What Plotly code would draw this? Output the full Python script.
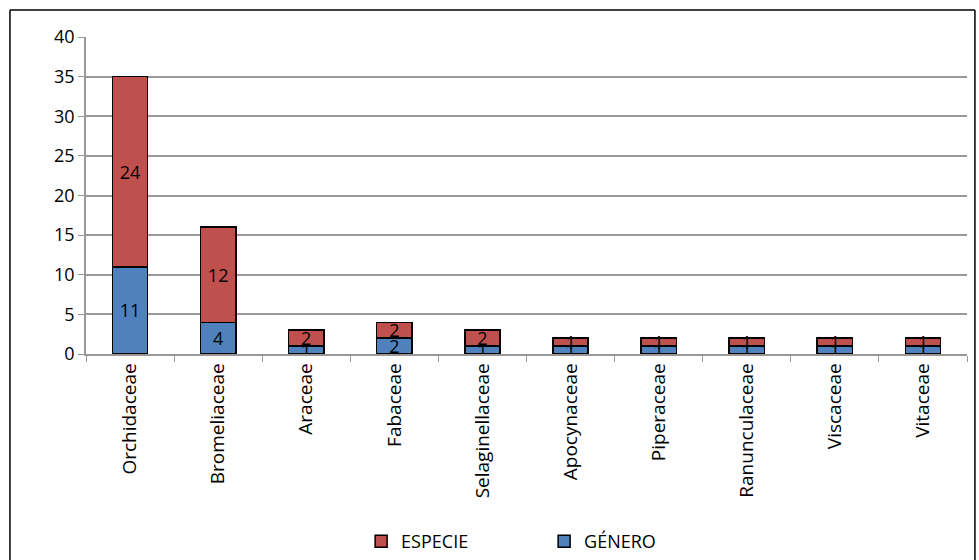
import plotly.graph_objects as go

# Data
familias = ["Orchidaceae", "Bromeliaceae", "Araceae", "Fabaceae", "Selaginellaceae",
            "Apocynaceae", "Piperaceae", "Ranunculaceae", "Viscaceae", "Vitaceae"]
genero = [11, 4, 1, 2, 1, 1, 1, 1, 1, 1]
especie = [24, 12, 2, 2, 2, 1, 1, 1, 1, 1]

font_name = "'Open Sans', sans-serif"

fig = go.Figure()

fig.add_trace(
    go.Bar(
        x=familias,
        y=genero,
        name="GÉNERO",
        text=genero,
        textposition="inside",
        insidetextanchor="middle",
        textangle=0,
        constraintext="none",
        textfont=dict(color="black", size=18, family=font_name),
        marker=dict(color="#4F81BD", line=dict(color="black", width=1.5)),
    )
)

fig.add_trace(
    go.Bar(
        x=familias,
        y=especie,
        name="ESPECIE",
        text=especie,
        textposition="inside",
        insidetextanchor="middle",
        textangle=0,
        constraintext="none",
        textfont=dict(color="black", size=18, family=font_name),
        marker=dict(color="#C0504D", line=dict(color="black", width=1.5)),
    )
)

# Outer frame of the chart (left, top, right edges; bottom runs off the page)
frame = dict(color="black", width=1.5)
fx0, fx1, fy0, fy1 = -0.0863, 1.009, -0.8, 1.085
fig.add_shape(type="line", xref="paper", yref="paper", x0=fx0, x1=fx0, y0=fy0, y1=fy1, line=frame)
fig.add_shape(type="line", xref="paper", yref="paper", x0=fx0, x1=fx1, y0=fy1, y1=fy1, line=frame)
fig.add_shape(type="line", xref="paper", yref="paper", x0=fx1, x1=fx1, y0=fy0, y1=fy1, line=frame)

fig.update_layout(
    barmode="stack",
    bargap=0.6,
    width=979,
    height=560,
    margin=dict(l=86, r=12, t=37, b=206, autoexpand=False),
    plot_bgcolor="white",
    paper_bgcolor="white",
    font=dict(family=font_name, size=18, color="black"),
    showlegend=True,
    legend=dict(
        orientation="h",
        x=0.52, xanchor="center",
        yref="container",
        y=0.0, yanchor="bottom",
        traceorder="reversed",
        entrywidth=138,
        font=dict(size=18),
    ),
    xaxis=dict(
        tickangle=-90,
        tickfont=dict(size=19),
        automargin=False,
        showline=True,
        linecolor="#999999",
        linewidth=1.5,
        ticks="outside",
        tickson="boundaries",
        ticklen=6,
        tickcolor="#999999",
        showgrid=False,
    ),
    yaxis=dict(
        range=[0, 40],
        dtick=5,
        automargin=False,
        showline=True,
        linecolor="#999999",
        linewidth=1.5,
        ticks="outside",
        ticklen=6,
        tickcolor="#999999",
        showgrid=True,
        gridcolor="#999999",
        gridwidth=1.5,
        zeroline=False,
    ),
)

# drop the default page margin so the figure sits at the window's corner
fig.write_html(
    "out.html",
    config={"displayModeBar": False, "responsive": False},
    post_script="document.body.style.margin='0';",
)
